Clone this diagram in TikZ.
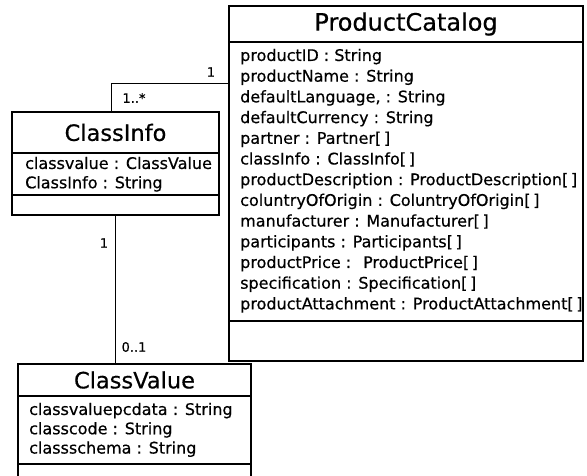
\documentclass[tikz,border=0pt]{standalone}
\usepackage{fontspec}
\setmainfont[FakeBold=0.5]{DejaVu Sans}
\usetikzlibrary{positioning}

\begin{document}
\begin{tikzpicture}[x=1pt,y=-1pt,node distance=0pt,
    box/.style={draw, line width=1.1pt, inner sep=0pt, outer sep=0pt, anchor=north west},
    title/.style={box, font=\fontsize{22.5}{26}\selectfont},
    attrs/.style={align=left, inner sep=0pt, font=\fontsize{16}{19.3}\selectfont},
    mult/.style={inner sep=1pt, font=\fontsize{13}{15}\selectfont}]
    \clip (0,0) rectangle (587,475);

    % ProductCatalog
    \node[title, font=\fontsize{24}{28}\selectfont, minimum width=354pt, minimum height=36pt] (pctitle) at (229,6) {ProductCatalog};
    \node[box, minimum width=354pt, minimum height=279pt, below=of pctitle] (pcattr) {};
    \node[box, minimum width=354pt, minimum height=40pt, below=of pcattr] (pcops) {};
    \node[attrs, font=\fontsize{16}{20.7}\selectfont, below right=6.6pt and 11pt of pcattr.north west] (pclist) {productID : String\\
      productName : String\\
      defaultLanguage, : String\\
      defaultCurrency : String\\
      partner : Partner[\,]\\
      classInfo : ClassInfo[\,]\\
      productDescription : ProductDescription[\,]\\
      coluntryOfOrigin : ColuntryOfOrigin[\,]\\
      manufacturer : Manufacturer[\,]\\
      participants : Participants[\,]\\
      productPrice :~ ProductPrice[\,]\\
      specification : Specification[\,]\\
      productAttachment : ProductAttachment[\,]};

    % ClassInfo
    \node[title, minimum width=207pt, minimum height=41pt] (cititle) at (12,112) {ClassInfo};
    \node[box, minimum width=207pt, minimum height=42pt, below=of cititle] (ciattr) {};
    \node[box, minimum width=207pt, minimum height=20pt, below=of ciattr] (ciops) {};
    \node[attrs, below right=3.6pt and 13pt of ciattr.north west] (cilist) {classvalue : ClassValue\\
      ClassInfo : String};

    % ClassValue
    \node[title, minimum width=233pt, minimum height=32pt] (cvtitle) at (18,364) {ClassValue};
    \node[box, minimum width=233pt, minimum height=68pt, below=of cvtitle] (cvattr) {};
    \node[box, minimum width=233pt, minimum height=30pt, below=of cvattr] (cvops) {};
    \node[attrs, below right=6.6pt and 11pt of cvattr.north west] (cvlist) {classvaluepcdata : String\\
      classcode : String\\
      classschema : String};

    % associations
    \draw[line width=1pt] ([xshift=-4.5pt]cititle.north) |- ([yshift=-41pt]pcattr.north west);
    \draw[line width=1pt] (ciops.south) -- (ciops.south |- cvtitle.north);

    \node[mult] (pcmult) at (211,72) {1};
    \node[mult] (cimultup) at (134,98) {1..*};
    \node[mult] (cimultdown) at (104,243) {1};
    \node[mult] (cvmult) at (134,347) {0..1};
\end{tikzpicture}
\end{document}
